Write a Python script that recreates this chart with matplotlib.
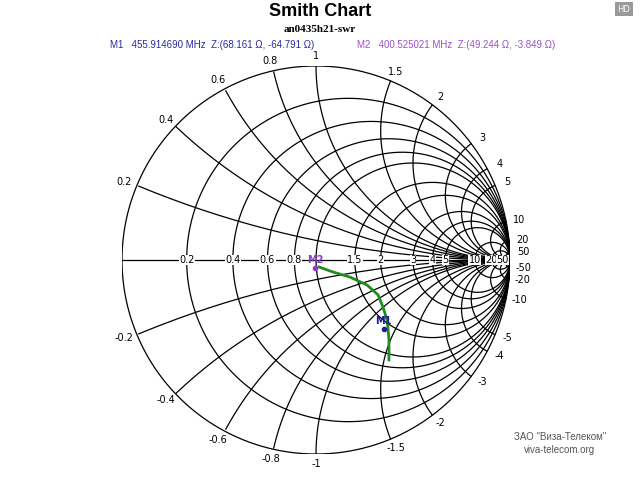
import numpy as np
import matplotlib
matplotlib.use("Agg")
import matplotlib.pyplot as plt

r_vals = [0, 0.2, 0.4, 0.6, 0.8, 1, 1.5, 2, 3, 4, 5, 10, 20, 50]
x_vals = [0.2, 0.4, 0.6, 0.8, 1, 1.5, 2, 3, 4, 5, 10, 20, 50]
r_labels = ["0.2", "0.4", "0.6", "0.8", "1.5", "2", "3", "4", "5", "10", "20", "50"]
# trace as reflection coefficient (real, imag)
g_re = [0.015, 0.088, 0.175, 0.263, 0.320, 0.345, 0.366, 0.371, 0.376, 0.376]
g_im = [-0.036, -0.062, -0.088, -0.129, -0.180, -0.242, -0.309, -0.351, -0.412, -0.515]
m1_z = complex(68.161, -64.791)
m2_z = complex(49.244, -3.849)
z0 = 50.0

fig = plt.figure(figsize=(6.4, 4.8), dpi=100)
ax = fig.add_axes([122/640, 26/480, 388/640, 388/480])
ax.set_xlim(-1, 1); ax.set_ylim(-1, 1)
ax.axis("off")

t = np.linspace(0, 2*np.pi, 721)
kw = dict(color="black", lw=0.9, zorder=1)
# resistance circles
for r in r_vals:
    c = r/(1+r); rad = 1/(1+r)
    ax.plot(c + rad*np.cos(t), rad*np.sin(t), **kw)
# reactance arcs (clipped to unit circle)
for xv in x_vals:
    for s in (1, -1):
        xx = s*xv
        c = (1, 1/xx); rad = abs(1/xx)
        px = c[0] + rad*np.cos(t); py = c[1] + rad*np.sin(t)
        m = px**2 + py**2 <= 1.0001
        px = np.where(m, px, np.nan); py = np.where(m, py, np.nan)
        ax.plot(px, py, **kw)
ax.plot([-1, 1], [0, 0], **kw)

lf = dict(fontsize=7, family="DejaVu Sans", ha="center", va="center")
for lab in r_labels:
    r = float(lab)
    g = (r-1)/(r+1)
    ax.text(g, 0, lab, bbox=dict(fc="white", ec="none", pad=0.3), zorder=3, **lf)
for xv in x_vals + [-v for v in x_vals]:
    g = (1j*xv - 1)/(1j*xv + 1)
    lab = ("%g" % xv)
    ax.text(1.07*g.real, 1.05*g.imag, lab, **lf)

ax.plot(g_re, g_im, color="#1e8c1e", lw=2, zorder=4)
for z, lab, col in [(m1_z, "M1", "#1a1aa0"), (m2_z, "M2", "#8a3cc8")]:
    zn = z/z0
    g = (zn-1)/(zn+1)
    ax.plot(g.real, g.imag, "o", ms=3, color=col, zorder=5)
    ax.text(g.real, g.imag+0.04, lab, color=col, fontsize=7, fontweight="bold",
            ha="center", va="center", zorder=6)

fig.text(0.5, 1-11/480, "Smith Chart", fontsize=13, fontweight="bold",
         family="Liberation Sans", ha="center", va="center")
fig.text(0.5, 1-29/480, "an0435h21-swr", fontsize=8, fontweight="bold",
         family="Liberation Serif", ha="center", va="center")
fig.text(110/640, 1-45/480, "M1   455.914690 MHz  Z:(68.161 \u03a9, -64.791 \u03a9)",
         fontsize=7, color="#2a2aa0", family="Liberation Sans", ha="left", va="center")
fig.text(357/640, 1-45/480, "M2   400.525021 MHz  Z:(49.244 \u03a9, -3.849 \u03a9)",
         fontsize=7, color="#9a50c8", family="Liberation Sans", ha="left", va="center")
fig.text(624/640, 1-9/480, "HD", fontsize=6, color="white", ha="center", va="center",
         bbox=dict(fc="#9a9a9a", ec="none", pad=1.5))
fig.text(560/640, 1-437/480, "\u0417\u0410\u041e \"\u0412\u0438\u0437\u0430-\u0422\u0435\u043b\u0435\u043a\u043e\u043c\"",
         fontsize=7, color="#555555", ha="center", va="center", family="Liberation Sans")
fig.text(560/640, 1-450/480, "viva-telecom.org", fontsize=7, color="#555555",
         ha="center", va="center", family="Liberation Sans")
fig.savefig("out.png", dpi=100, facecolor="white")
